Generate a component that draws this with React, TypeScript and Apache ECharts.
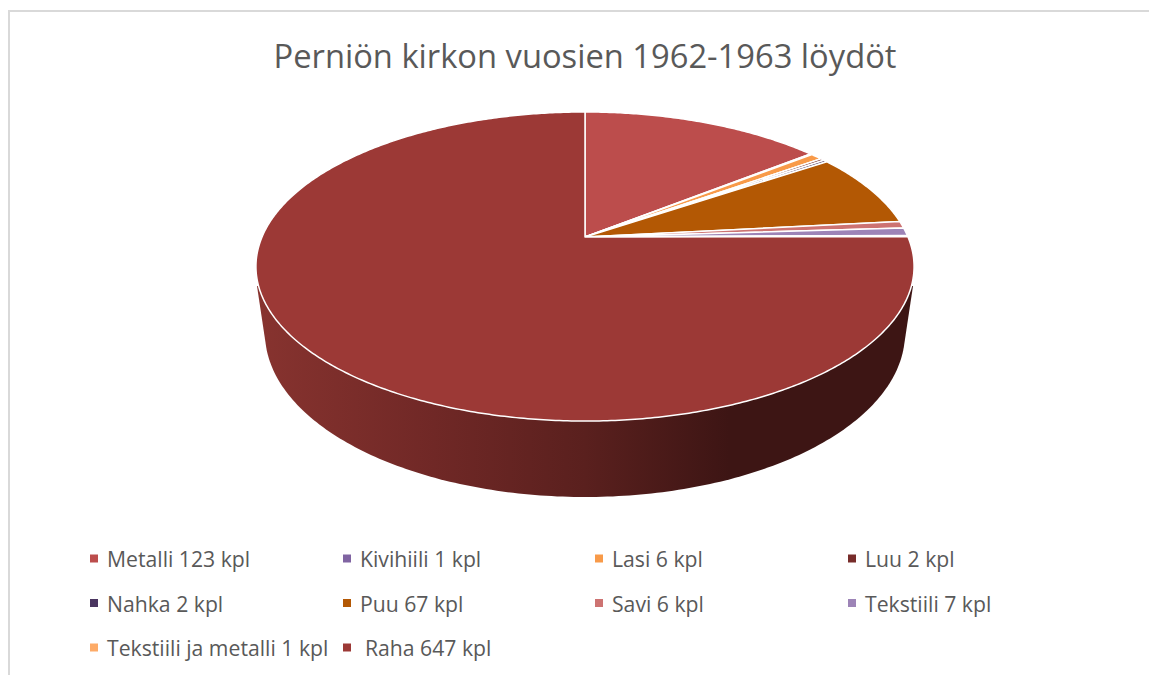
import React, { useEffect, useRef } from "react";
import * as echarts from "echarts";

const titleText = "Perniön kirkon vuosien 1962-1963 löydöt";
const categories = ["Metalli", "Kivihiili", "Lasi", "Luu", "Nahka", "Puu", "Savi", "Tekstiili", "Tekstiili ja metalli", "Raha"];
const counts = [123, 1, 6, 2, 2, 67, 6, 7, 1, 647];
const colors = ["#bc4d4c", "#8064a2", "#f89a49", "#772c2a", "#4a3560", "#b35804", "#cd7372", "#9d84b7", "#fdab68", "#9c3936"];
const legendColumns = [[0, 4, 8], [1, 5, 9], [2, 6], [3, 7]];
const legendX = [90, 343, 595, 848];

const FONT = "'Open Sans'";
const total = counts.reduce((a, b) => a + b, 0);
const starts = counts.map((_, i) => counts.slice(0, i).reduce((a, b) => a + b, 0));
const label = (i: number) => `${categories[i]} ${counts[i]} kpl`;

// Perspective view of the pie's top face
const apex = { x: 585, y: 237 };
const persp = { a: 323, b: 148.9, k: -0.191 };
const project = (theta: number) => {
  const u = Math.sin(theta);
  const v = -Math.cos(theta);
  const d = 1 + persp.k * v;
  return [apex.x + (persp.a * u) / d, apex.y + (persp.b * v) / d];
};
// Base rim of the pie's wall
const base = { cx: 585, cy: 333, rx: 320, ry: 164 };

const wallPoints = () => {
  const pts: number[][] = [[257, 286]];
  for (let t = 175; t >= 5; t -= 1) {
    const r = (t * Math.PI) / 180;
    pts.push([base.cx + base.rx * Math.cos(r), base.cy + base.ry * Math.sin(r)]);
  }
  pts.push([913, 286]);
  return pts;
};

const renderSlice = (color: string, isFront: boolean) => (_params: any, api: any) => {
  const start = (api.value(0) / total) * Math.PI * 2;
  const end = ((api.value(0) + api.value(1)) / total) * Math.PI * 2;
  const pts: number[][] = [[apex.x, apex.y]];
  const steps = Math.max(2, Math.ceil((end - start) / 0.01));
  for (let i = 0; i <= steps; i++) pts.push(project(start + ((end - start) * i) / steps));
  const top = {
    type: "polygon",
    shape: { points: pts },
    style: { fill: color, stroke: "#ffffff", lineWidth: 1.5, lineJoin: "round" },
    silent: true,
  };
  if (!isFront) return top;
  return {
    type: "group",
    children: [
      {
        type: "polygon",
        shape: { points: wallPoints() },
        style: {
          fill: new echarts.graphic.LinearGradient(0, 0, 1, 0, [
            { offset: 0, color: "#87332f" },
            { offset: 0.27, color: "#702826" },
            { offset: 0.5, color: "#5a201e" },
            { offset: 0.72, color: "#3d1514" },
            { offset: 1, color: "#3d1514" },
          ]),
        },
        silent: true,
      },
      top,
    ],
  };
};

const App = () => {
  const ref = useRef<HTMLDivElement>(null);
  useEffect(() => {
    document.body.style.margin = "0";
    document.body.style.overflow = "hidden";
    const chart = echarts.init(ref.current!, null, { renderer: "svg" });
    chart.setOption({
      animation: false,
      backgroundColor: "#ffffff",
      title: {
        text: titleText,
        left: 585,
        top: 39,
        padding: 0,
        textAlign: "center",
        textStyle: { fontFamily: FONT, fontSize: 32.7, fontWeight: "normal", color: "#595959" },
      },
      legend: legendColumns.map((col, c) => ({
        orient: "vertical",
        left: legendX[c],
        top: 548,
        padding: 0,
        itemWidth: 8,
        itemHeight: 8,
        itemGap: 23.5,
        icon: "rect",
        selectedMode: false,
        textStyle: { fontFamily: FONT, fontSize: 21.2, color: "#595959", padding: [0, 0, 0, 4] },
        data: col.map((i) =>
          categories[i] === "Raha"
            ? { name: label(i), textStyle: { padding: [0, 0, 0, 9] } }
            : { name: label(i) }
        ),
      })),
      graphic: [
        { type: "line", shape: { x1: 9, y1: 11, x2: 1149, y2: 11 }, style: { stroke: "#d9d9d9", lineWidth: 2 }, silent: true },
        { type: "line", shape: { x1: 9, y1: 10, x2: 9, y2: 675 }, style: { stroke: "#d9d9d9", lineWidth: 2 }, silent: true },
      ],
      series: categories.map((_, i) => ({
        type: "custom",
        name: label(i),
        coordinateSystem: "none",
        itemStyle: { color: colors[i] },
        renderItem: renderSlice(colors[i], categories[i] === "Raha"),
        data: [[starts[i], counts[i]]],
      })),
    });
    return () => chart.dispose();
  }, []);
  return <div ref={ref} style={{ width: 1149, height: 675 }} />;
};

export default App;
